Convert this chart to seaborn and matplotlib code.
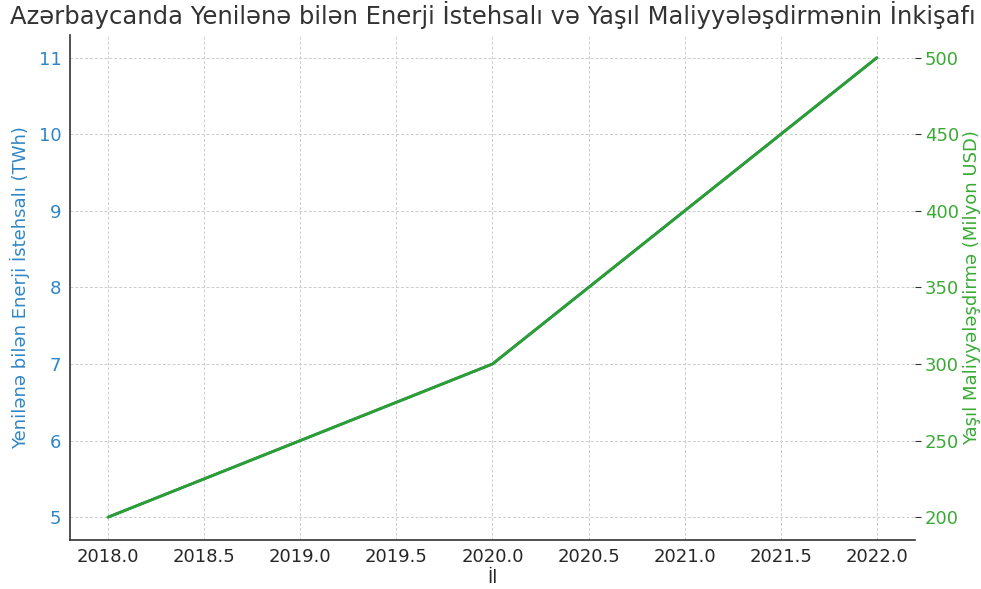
import matplotlib
matplotlib.use("Agg")
import matplotlib.pyplot as plt
import seaborn as sns
import pandas as pd

# Data
years = [2018, 2019, 2020, 2021, 2022]
energy_twh = [5, 6, 7, 9, 11]
green_finance_musd = [200, 250, 300, 400, 500]

df = pd.DataFrame({
    "year": years,
    "energy": energy_twh,
    "finance": green_finance_musd
})

sns.set_style("white")
plt.rcParams["font.family"] = ["DejaVu Sans"]

blue = "#2f86c6"
green = "#2ca02c"
fs = 13

fig, ax = plt.subplots(figsize=(9.81, 5.89), dpi=100)

sns.lineplot(data=df, x="year", y="energy", color="tab:blue", linewidth=2, ax=ax)
ax.set_xlabel("İl", fontsize=fs, labelpad=2)
ax.set_ylabel("Yenilənə bilən Enerji İstehsalı (TWh)", color=blue, fontsize=fs, labelpad=6)
ax.tick_params(axis="y", labelcolor=blue, labelsize=fs, length=0, pad=6)
ax.tick_params(axis="x", labelsize=fs, length=0, pad=6)
ax.set_xticks([2018.0, 2018.5, 2019.0, 2019.5, 2020.0, 2020.5, 2021.0, 2021.5, 2022.0])
ax.set_xticklabels(["2018.0", "2018.5", "2019.0", "2019.5", "2020.0",
                    "2020.5", "2021.0", "2021.5", "2022.0"])
ax.grid(True, linestyle=(0, (3, 2)), color="#cccccc", linewidth=0.7)
for side in ["top", "right"]:
    ax.spines[side].set_visible(False)
for side in ["left", "bottom"]:
    ax.spines[side].set_color("#333333")
    ax.spines[side].set_linewidth(1.2)

ax2 = ax.twinx()
sns.lineplot(data=df, x="year", y="finance", color=green, linewidth=2, ax=ax2)
ax2.set_ylabel("Yaşıl Maliyyələşdirmə (Milyon USD)", color="#3aaa35", fontsize=fs, labelpad=3)
ax2.tick_params(axis="y", labelcolor="#3aaa35", labelsize=fs, length=4, pad=3, color="#333333")
for side in ["top", "right", "left", "bottom"]:
    ax2.spines[side].set_visible(False)

ax.set_title("Azərbaycanda Yenilənə bilən Enerji İstehsalı və Yaşıl Maliyyələşdirmənin İnkişafı",
             fontsize=17.5, color="#333333", pad=8)

fig.subplots_adjust(left=0.071, right=0.933, top=0.941, bottom=0.083)
fig.savefig("out.png", dpi=100)
plt.close()
